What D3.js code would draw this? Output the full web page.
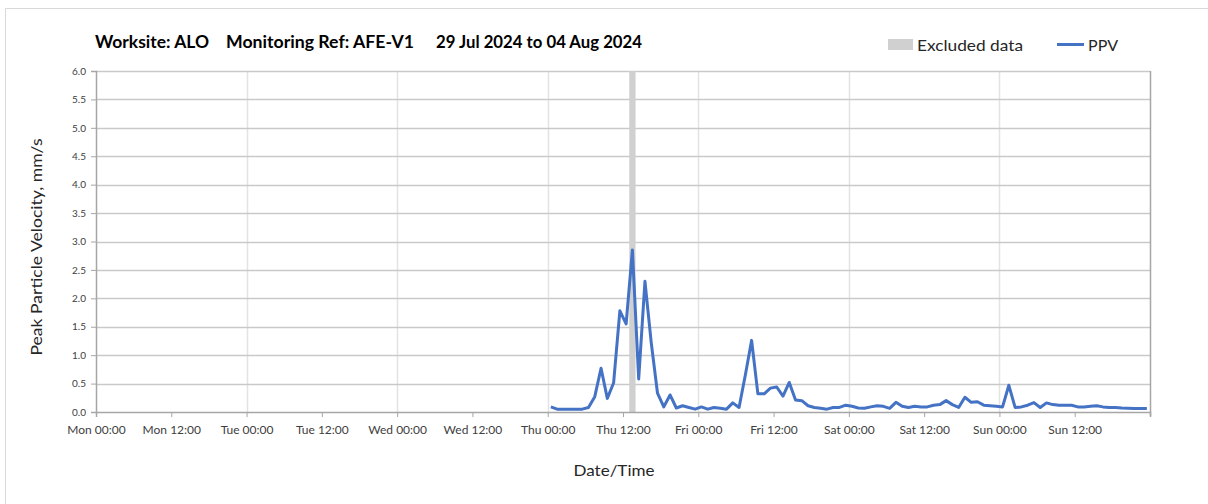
<!DOCTYPE html>
<html>
<head>
<meta charset="utf-8">
<script src="https://cdn.jsdelivr.net/npm/d3@7"></script>
<style>
  html, body { margin: 0; padding: 0; background: #fff; }
  svg { display: block; font-family: "Lato", "Open Sans", sans-serif; }
</style>
</head>
<body>
<svg id="chart" width="1208" height="504"></svg>
<script>
// ---- data ----
const titleParts = ["Worksite: ALO", "Monitoring Ref: AFE-V1", "29 Jul 2024 to 04 Aug 2024"];
const axisStart = "2024-07-29T00:00:00Z";
const axisEnd = "2024-08-05T00:00:00Z";
const seriesStart = "2024-08-01T00:30:00Z";
const seriesIntervalMinutes = 60;
const ppv = [
  0.09, 0.05, 0.05, 0.05, 0.05, 0.05, 0.08, 0.27, 0.77, 0.24,
  0.51, 1.78, 1.55, 2.85, 0.58, 2.30, 1.22, 0.33, 0.09, 0.30,
  0.07, 0.11, 0.08, 0.05, 0.09, 0.05, 0.08, 0.065, 0.05, 0.16,
  0.08, 0.65, 1.26, 0.32, 0.32, 0.42, 0.44, 0.28, 0.52, 0.21,
  0.20, 0.11, 0.08, 0.065, 0.05, 0.08, 0.08, 0.12, 0.10, 0.07,
  0.065, 0.09, 0.11, 0.10, 0.065, 0.17, 0.10, 0.08, 0.10, 0.09,
  0.09, 0.12, 0.13, 0.20, 0.13, 0.08, 0.26, 0.17, 0.18, 0.12,
  0.11, 0.10, 0.09, 0.47, 0.08, 0.09, 0.12, 0.165, 0.08, 0.16,
  0.13, 0.12, 0.12, 0.12, 0.09, 0.09, 0.10, 0.11, 0.09, 0.08,
  0.08, 0.07, 0.065, 0.06, 0.06, 0.06
];
const excludedRanges = [["2024-08-01T13:00:00Z", "2024-08-01T14:00:00Z"]];
const yTicks = [0, 0.5, 1, 1.5, 2, 2.5, 3, 3.5, 4, 4.5, 5, 5.5, 6];
const legendLabels = ["Excluded data", "PPV"];
const yLabel = "Peak Particle Velocity, mm/s";
const xLabel = "Date/Time";

// ---- layout ----
const svg = d3.select("#chart");
const plot = { left: 96, right: 1150, top: 71, bottom: 412 };
const x = d3.scaleUtc().domain([new Date(axisStart), new Date(axisEnd)]).range([plot.left, plot.right]);
const y = d3.scaleLinear().domain([0, 6]).range([plot.bottom, plot.top]);

const t0 = new Date(seriesStart).getTime();
const points = ppv.map((v, i) => ({ t: new Date(t0 + i * seriesIntervalMinutes * 60000), v }));

// outer frame (top & left visible)
svg.append("path").attr("d", "M5.5,504 V8.5 H1208").attr("fill", "none").attr("stroke", "#d9d9d9").attr("stroke-width", 1);

// vertical gridlines (day boundaries)
const dayTicks = d3.utcDay.range(new Date(axisStart), new Date(axisEnd)).slice(1);
svg.append("g").selectAll("line").data(dayTicks).join("line")
  .attr("x1", d => Math.round(x(d)) + 0.5).attr("x2", d => Math.round(x(d)) + 0.5)
  .attr("y1", plot.top).attr("y2", plot.bottom)
  .attr("stroke", "#e3e3e3").attr("stroke-width", 1.5);

// horizontal gridlines
svg.append("g").selectAll("line").data(yTicks.filter(d => d > 0)).join("line")
  .attr("x1", plot.left).attr("x2", plot.right)
  .attr("y1", d => Math.round(y(d)) + 0.5).attr("y2", d => Math.round(y(d)) + 0.5)
  .attr("stroke", "#c9c9c9").attr("stroke-width", 1.5);

// excluded band
svg.append("g").selectAll("rect").data(excludedRanges).join("rect")
  .attr("x", d => x(new Date(d[0]))).attr("width", d => x(new Date(d[1])) - x(new Date(d[0])))
  .attr("y", plot.top).attr("height", plot.bottom - plot.top)
  .attr("fill", "#d0d0d0");

// right border
svg.append("line").attr("x1", plot.right + 0.5).attr("x2", plot.right + 0.5)
  .attr("y1", plot.top).attr("y2", plot.bottom + 4)
  .attr("stroke", "#a6a6a6").attr("stroke-width", 1.5);

// y axis
const yAxis = svg.append("g").attr("transform", `translate(${plot.left},0)`)
  .call(d3.axisLeft(y).tickValues(yTicks).tickFormat(d3.format(".1f")).tickSize(5).tickPadding(5));
yAxis.select(".domain").attr("stroke", "#a6a6a6").attr("stroke-width", 1.5);
yAxis.selectAll(".tick line").attr("stroke", "#a6a6a6");
yAxis.selectAll(".tick text").attr("fill", "#404040").style("font-size", "10px").style("font-family", "Lato");

// x axis
const xTickVals = d3.utcHour.every(12).range(new Date(axisStart), new Date(new Date(axisEnd).getTime() + 1));
const fmt = d3.utcFormat("%a %H:%M");
const xAxis = svg.append("g").attr("transform", `translate(0,${plot.bottom})`)
  .call(d3.axisBottom(x).tickValues(xTickVals).tickFormat(d => d.getTime() >= new Date(axisEnd).getTime() ? "" : fmt(d)).tickSize(5).tickPadding(8));
xAxis.select(".domain").attr("stroke", "#a6a6a6").attr("stroke-width", 1.5);
xAxis.selectAll(".tick line").attr("stroke", "#a6a6a6");
xAxis.selectAll(".tick text").attr("fill", "#404040").style("font-size", "12px").style("font-family", "Lato");

// line
const line = d3.line().x(d => x(d.t)).y(d => y(d.v));
svg.append("path").datum(points).attr("d", line)
  .attr("fill", "none").attr("stroke", "#4472C4").attr("stroke-width", 3)
  .attr("stroke-linejoin", "round");

// title
const titleX = [95, 226, 436];
const titleW = [114, 188, 206];
svg.append("g").selectAll("text").data(titleParts).join("text")
  .attr("x", (d, i) => titleX[i]).attr("y", 48)
  .attr("textLength", (d, i) => titleW[i]).attr("lengthAdjust", "spacingAndGlyphs")
  .attr("fill", "#000").style("font-size", "16.5px").style("font-weight", "bold")
  .text(d => d);

// legend
svg.append("rect").attr("x", 888).attr("y", 39).attr("width", 25).attr("height", 11).attr("fill", "#d0d0d0");
svg.append("text").attr("x", 917).attr("y", 51).attr("textLength", 106).attr("lengthAdjust", "spacingAndGlyphs")
  .attr("fill", "#262626").style("font-size", "16px").text(legendLabels[0]);
svg.append("line").attr("x1", 1057).attr("x2", 1084).attr("y1", 44.5).attr("y2", 44.5).attr("stroke", "#4472C4").attr("stroke-width", 3);
svg.append("text").attr("x", 1088).attr("y", 51).attr("textLength", 30).attr("lengthAdjust", "spacingAndGlyphs")
  .attr("fill", "#262626").style("font-size", "16px").text(legendLabels[1]);

// axis titles
svg.append("text").attr("transform", "translate(42,247) rotate(-90)").attr("text-anchor", "middle")
  .attr("textLength", 217).attr("lengthAdjust", "spacingAndGlyphs")
  .attr("fill", "#262626").style("font-size", "16px").text(yLabel);
svg.append("text").attr("x", 614).attr("y", 476).attr("text-anchor", "middle")
  .attr("textLength", 81).attr("lengthAdjust", "spacingAndGlyphs")
  .attr("fill", "#262626").style("font-size", "16px").text(xLabel);
</script>
</body>
</html>
